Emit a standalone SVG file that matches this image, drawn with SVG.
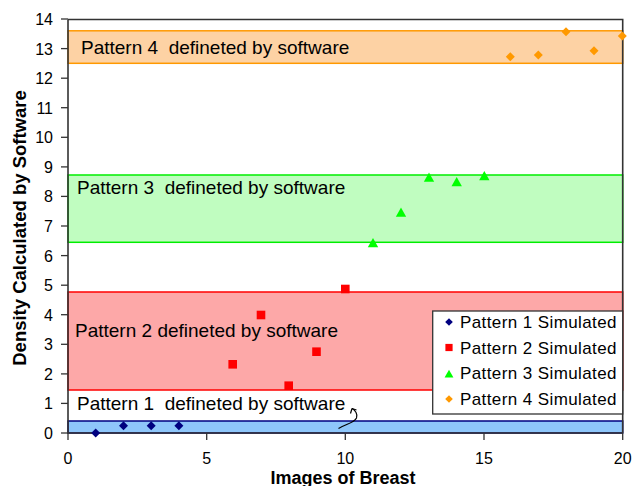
<svg xmlns="http://www.w3.org/2000/svg" width="632" height="486" viewBox="0 0 632 486">
  <style>
    .tick { font-family: "Liberation Sans", Arial, sans-serif; font-size: 16px; fill: #000; }
    .band-label { font-family: "Liberation Sans", Arial, sans-serif; font-size: 19px; fill: #000; white-space: pre; }
    .legend-text { font-family: "Liberation Sans", Arial, sans-serif; font-size: 17px; letter-spacing: 0.4px; fill: #000; }
    .title { font-family: "Liberation Sans", Arial, sans-serif; font-size: 18.5px; font-weight: bold; fill: #000; }
    .axis { stroke: #333; stroke-width: 1.6; fill: none; }
    .tk { stroke: #333; stroke-width: 1.3; }
    .p1 { fill: #000080; }
    .p2 { fill: #FF0000; }
    .p3 { fill: #00FF00; }
    .p4 { fill: #FF9900; }
  </style>
  <defs>
    <path id="dia" d="M0,-4.5 L4.5,0 L0,4.5 L-4.5,0 Z"/>
    <rect id="sq" x="-4.3" y="-4.3" width="8.6" height="8.6"/>
    <path id="tri" d="M0,-5 L5.2,4.2 L-5.2,4.2 Z"/>
    <path id="ldia" d="M0,-3.8 L3.8,0 L0,3.8 L-3.8,0 Z"/>
    <rect id="lsq" x="-3.6" y="-3.6" width="7.2" height="7.2"/>
    <path id="ltri" d="M0,-4.2 L4.4,3.6 L-4.4,3.6 Z"/>
  </defs>

  <rect x="0" y="0" width="632" height="486" fill="#FFFFFF"/>

  <!-- Bands -->
  <g id="band4">
    <rect x="68" y="30.8" width="554.7" height="32.5" fill="#FDD2A4" stroke="#FF9900" stroke-width="1.5"/>
    <text class="band-label" x="81" y="54" xml:space="preserve">Pattern 4  defineted by software</text>
  </g>
  <g id="band3">
    <rect x="68" y="175" width="554.7" height="67.3" fill="#C0FDC0" stroke="#00EE00" stroke-width="1.5"/>
    <text class="band-label" x="77" y="194" xml:space="preserve">Pattern 3  defineted by software</text>
  </g>
  <g id="band2">
    <rect x="68" y="292" width="554.7" height="98" fill="#FDA8A8" stroke="#FF0000" stroke-width="1.5"/>
    <text class="band-label" x="75" y="337">Pattern 2 defineted by software</text>
  </g>
  <g id="band1">
    <rect x="68" y="421" width="554.7" height="12" fill="#8EC6FA" stroke="#000080" stroke-width="1.5"/>
    <text class="band-label" x="77" y="410" xml:space="preserve">Pattern 1  defineted by software</text>
  </g>

  <!-- Plot frame and axes -->
  <g id="axes">
    <path class="axis" d="M68,19.5 L622.7,19.5 L622.7,433"/>
    <path class="axis" d="M68,19.5 L68,433 L622.7,433"/>
    <g class="tk">
      <line x1="61" y1="433" x2="68" y2="433"/>
      <line x1="61" y1="403.4" x2="68" y2="403.4"/>
      <line x1="61" y1="373.9" x2="68" y2="373.9"/>
      <line x1="61" y1="344.3" x2="68" y2="344.3"/>
      <line x1="61" y1="314.7" x2="68" y2="314.7"/>
      <line x1="61" y1="285.2" x2="68" y2="285.2"/>
      <line x1="61" y1="255.6" x2="68" y2="255.6"/>
      <line x1="61" y1="226" x2="68" y2="226"/>
      <line x1="61" y1="196.4" x2="68" y2="196.4"/>
      <line x1="61" y1="166.9" x2="68" y2="166.9"/>
      <line x1="61" y1="137.3" x2="68" y2="137.3"/>
      <line x1="61" y1="107.7" x2="68" y2="107.7"/>
      <line x1="61" y1="78.2" x2="68" y2="78.2"/>
      <line x1="61" y1="48.6" x2="68" y2="48.6"/>
      <line x1="61" y1="19" x2="68" y2="19"/>
      <line x1="68" y1="433" x2="68" y2="440"/>
      <line x1="206.7" y1="433" x2="206.7" y2="440"/>
      <line x1="345.3" y1="433" x2="345.3" y2="440"/>
      <line x1="484" y1="433" x2="484" y2="440"/>
      <line x1="622.7" y1="433" x2="622.7" y2="440"/>
    </g>
    <g class="tick" text-anchor="end">
      <text x="53" y="439">0</text>
      <text x="53" y="409.4">1</text>
      <text x="53" y="379.9">2</text>
      <text x="53" y="350.3">3</text>
      <text x="53" y="320.7">4</text>
      <text x="53" y="291.2">5</text>
      <text x="53" y="261.6">6</text>
      <text x="53" y="232">7</text>
      <text x="53" y="202.4">8</text>
      <text x="53" y="172.9">9</text>
      <text x="53" y="143.3">10</text>
      <text x="53" y="113.7">11</text>
      <text x="53" y="84.2">12</text>
      <text x="53" y="54.6">13</text>
      <text x="53" y="25">14</text>
    </g>
    <g class="tick" text-anchor="middle">
      <text x="68" y="464">0</text>
      <text x="206.7" y="464">5</text>
      <text x="345.3" y="464">10</text>
      <text x="484" y="464">15</text>
      <text x="622.7" y="464">20</text>
    </g>
    <text class="title" text-anchor="middle" x="343" y="483.5" style="font-size:18px">Images of Breast</text>
    <text class="title" text-anchor="middle" transform="translate(26,228) rotate(-90)">Density Calculated by Software</text>
  </g>

  <!-- Data series -->
  <g id="series1" class="p1">
    <use href="#dia" x="95.7" y="433"/>
    <use href="#dia" x="123.5" y="425.7"/>
    <use href="#dia" x="151.2" y="425.7"/>
    <use href="#dia" x="178.9" y="425.7"/>
  </g>
  <g id="series2" class="p2">
    <use href="#sq" x="232.7" y="364.3"/>
    <use href="#sq" x="261" y="315"/>
    <use href="#sq" x="288.7" y="385.7"/>
    <use href="#sq" x="316.5" y="351.7"/>
    <use href="#sq" x="345.3" y="289"/>
  </g>
  <g id="series3" class="p3">
    <use href="#tri" x="373" y="243"/>
    <use href="#tri" x="401" y="212.5"/>
    <use href="#tri" x="429" y="177.5"/>
    <use href="#tri" x="456.7" y="182"/>
    <use href="#tri" x="484.3" y="176"/>
  </g>
  <g id="series4" class="p4">
    <use href="#dia" x="510.3" y="56.7"/>
    <use href="#dia" x="538.3" y="55"/>
    <use href="#dia" x="566" y="31.7"/>
    <use href="#dia" x="594" y="50.7"/>
    <use href="#dia" x="622.3" y="36"/>
  </g>

  <!-- Annotation squiggle -->
  <g id="connectors" fill="none" stroke="#000" stroke-width="1.2">
    <path d="M338.5,428.5 C346,424 354,423 356.5,418 C358,414 355,410 352,408.5"/>
    <path d="M352,408.5 L350.5,413.5 M352,408.5 L356.5,410"/>
  </g>

  <!-- Legend -->
  <g id="legend">
    <rect x="432.7" y="311" width="190" height="103" fill="#FFFFFF" stroke="#333" stroke-width="1.3"/>
    <use href="#ldia" class="p1" x="449" y="322"/>
    <use href="#lsq" class="p2" x="449" y="347.5"/>
    <use href="#ltri" class="p3" x="449" y="374"/>
    <use href="#ldia" class="p4" x="449" y="399"/>
    <text class="legend-text" x="460" y="328">Pattern 1 Simulated</text>
    <text class="legend-text" x="460" y="353.5">Pattern 2 Simulated</text>
    <text class="legend-text" x="460" y="379">Pattern 3 Simulated</text>
    <text class="legend-text" x="460" y="404.5">Pattern 4 Simulated</text>
  </g>
</svg>
